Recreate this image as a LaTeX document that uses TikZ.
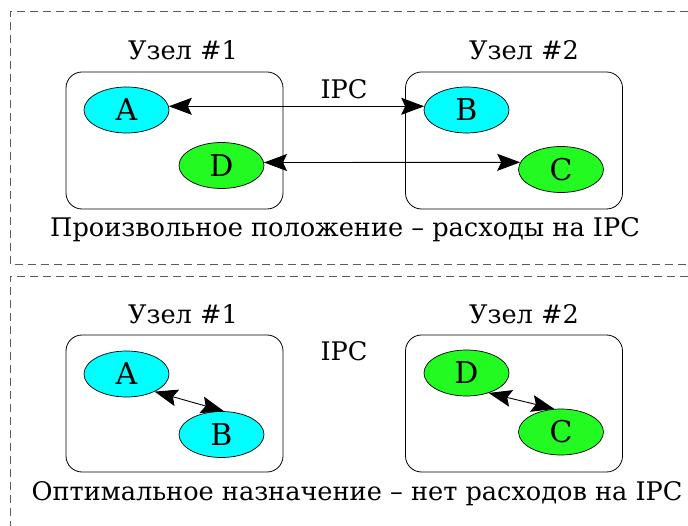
\documentclass[tikz,border=0pt]{standalone}
\usepackage{fontspec}
\IfFontExistsTF{TemporaLGCUni-Regular.otf}{%
  \setmainfont{TemporaLGCUni-Regular.otf}\def\lblsz{29.5}\def\nodesz{33}}{%
  \IfFontExistsTF{Tempora-Regular.otf}{%
    \setmainfont{Tempora-Regular.otf}\def\lblsz{29.5}\def\nodesz{33}}{%
    \setmainfont{DejaVu Serif}\def\lblsz{25.6}\def\nodesz{30}}}
\usetikzlibrary{arrows.meta,shapes.geometric}
\definecolor{ccyan}{RGB}{0,255,255}
\definecolor{cgreen}{RGB}{34,250,34}
\definecolor{dashgray}{RGB}{90,90,90}
\tikzset{
  px/.style={x=1pt,y=-1pt},
  proc/.style={ellipse,draw=black,line width=0.7pt,minimum width=85pt,minimum height=46pt,inner sep=0pt,font=\fontsize{\nodesz}{\nodesz}\selectfont},
  pcyan/.style={proc,fill=ccyan},
  pgreen/.style={proc,fill=cgreen},
  cluster/.style={draw=black,line width=0.8pt,rounded corners=16pt,minimum width=217pt,minimum height=137pt,inner sep=0pt},
  lbl/.style={anchor=base,inner sep=0pt,font=\fontsize{\lblsz}{\lblsz}\selectfont},
  frame/.style={draw=dashgray,line width=0.8pt,dash pattern=on 8pt off 5pt},
  ipc/.style={draw=black,line width=0.9pt,{Stealth[length=23pt,width=17pt,inset=4pt]}-{Stealth[length=23pt,width=17pt,inset=4pt]}},
}
\begin{document}
\begin{tikzpicture}[px]
\useasboundingbox (0,0) rectangle (688,526);
% dashed frames
\draw[frame] (688,11) -- (10,11) -- (10,264) -- (688,264);
\draw[frame] (688,276) -- (10,276) -- (10,526);

% ---- top panel ----
\node[cluster] (t1) at (174.5,140.5) {};
\node[cluster] (t2) at (514,140.5) {};
\node[lbl] (t1l) at (183,60) {Узел \#1};
\node[lbl] (t2l) at (524,60) {Узел \#2};
\node[lbl] (tipc) at (344,99) {IPC};
\node[pcyan] (tA) at (126.5,110) {A};
\node[pcyan] (tB) at (466.5,110) {B};
\node[pgreen] (tD) at (221.5,165.5) {D};
\node[pgreen] (tC) at (561,169.5) {C};
\draw[ipc] (tA.5) -- (tB.175);
\draw[ipc] (tD.4) -- (tC.170);
\node[lbl] (tcap) at (345,237) {Произвольное положение – расходы на IPC};

% ---- bottom panel ----
\node[cluster] (b1) at (174.5,403.5) {};
\node[cluster] (b2) at (514,403.5) {};
\node[lbl] (b1l) at (183,324) {Узел \#1};
\node[lbl] (b2l) at (524,324) {Узел \#2};
\node[lbl] (bipc) at (344,361) {IPC};
\node[pcyan] (bA) at (126.5,374) {A};
\node[pcyan] (bB) at (221.5,434.5) {B};
\node[pgreen] (bD) at (466.5,373) {D};
\node[pgreen] (bC) at (561,432) {C};
\draw[ipc] (bA.-32) -- (bB.84);
\draw[ipc] (bD.-42) -- (bC.106);
\node[lbl] (bcap) at (357,500) {Оптимальное назначение – нет расходов на IPC};
\end{tikzpicture}
\end{document}
